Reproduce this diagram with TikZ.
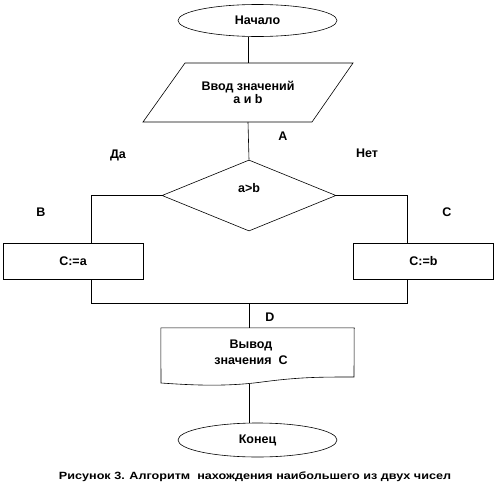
\documentclass[tikz,border=0pt]{standalone}
\usepackage{fontspec}
\setmainfont{Liberation Sans}
\usetikzlibrary{shapes.geometric,calc}
\begin{document}
\begin{tikzpicture}[x=1pt,y=-1pt,
  line/.style={draw=black,line width=0.6pt},
  term/.style={ellipse,draw=black,line width=0.6pt,minimum width=159pt,minimum height=32pt,inner sep=0pt,font=\fontsize{12.5}{14}\selectfont\bfseries},
  proc/.style={rectangle,draw=black,line width=0.6pt,minimum width=140pt,minimum height=36pt,inner sep=0pt,font=\fontsize{12.5}{14}\selectfont\bfseries},
  txt/.style={font=\fontsize{12.5}{14}\selectfont\bfseries,inner sep=1pt,align=center},
  lbl/.style={font=\fontsize{12.5}{14}\selectfont\bfseries,inner sep=1pt}]
\useasboundingbox (0,0) rectangle (498,498);
% start
\node[term] (start) at (257.5,20.5) {Начало};
% input parallelogram
\node[txt,minimum height=59pt,minimum width=169pt] (inp) at (248,92.5) {Ввод значений\\[-1pt]a и b};
\coordinate (pTL) at (185,63);
\coordinate (pTR) at (353,63);
\coordinate (pBR) at (312,122);
\coordinate (pBL) at (143,122);
\draw[line] (pTL) -- (pTR) -- (pBR) -- (pBL) -- cycle;
% decision
\node[diamond,draw=black,line width=0.6pt,minimum width=174pt,minimum height=71pt,inner sep=0pt] (dec) at (249,195.5) {};
\node[txt] (dect) at (249,188) {a>b};
% process boxes
\node[proc] (pa) at (73,261) {C:=a};
\node[proc] (pb) at (423.5,261) {C:=b};
% merge point
\coordinate (jL) at (91,303);
\coordinate (jR) at (407,303);
\coordinate (jM) at (249,303);
% output document
\node[txt,minimum width=193pt,minimum height=52pt] (doc) at (257.5,354) {};
\node[txt] (doct) at (251,352) {Вывод\\[2pt]значения\ \ С};
\draw[line] (doc.north west) -- (doc.north east) -- (354,377)
  .. controls (320,377) and (300,377) .. (262,382)
  .. controls (225,387) and (190,385) .. (161,383) -- cycle;
% end
\node[term,minimum height=34pt] (end) at (257.5,440) {Конец};
% connectors
\draw[line] (start.south -| inp.north) -- (inp.north);
\draw[line] (inp.south) -- (dec.north);
\draw[line] (dec.west) -| (pa.north -| jL);
\draw[line] (dec.east) -| (pb.north -| jR);
\draw[line] (pa.south -| jL) -- (jL) -- (jR) -- (pb.south -| jR);
\draw[line] (jM) -- (doc.north -| jM);
\draw[line] (249,383.5) -- (end.north -| jM);
% labels
\node[lbl] (lA) at (283,136) {А};
\node[lbl] (lDa) at (118,155) {Да};
\node[lbl] (lNet) at (367,153) {Нет};
\node[lbl] (lB) at (41,212) {В};
\node[lbl] (lC) at (447,212) {С};
\node[lbl,fill=white,minimum width=40pt,inner ysep=2pt] (lD) at (270,317) {D};
% caption
\node[inner sep=0pt] (cap) at (255,477) {\scalebox{1.2}[1]{\fontsize{10.5}{12}\selectfont\bfseries Рисунок 3. Алгоритм\ \ нахождения наибольшего из двух чисел}};
\end{tikzpicture}
\end{document}
